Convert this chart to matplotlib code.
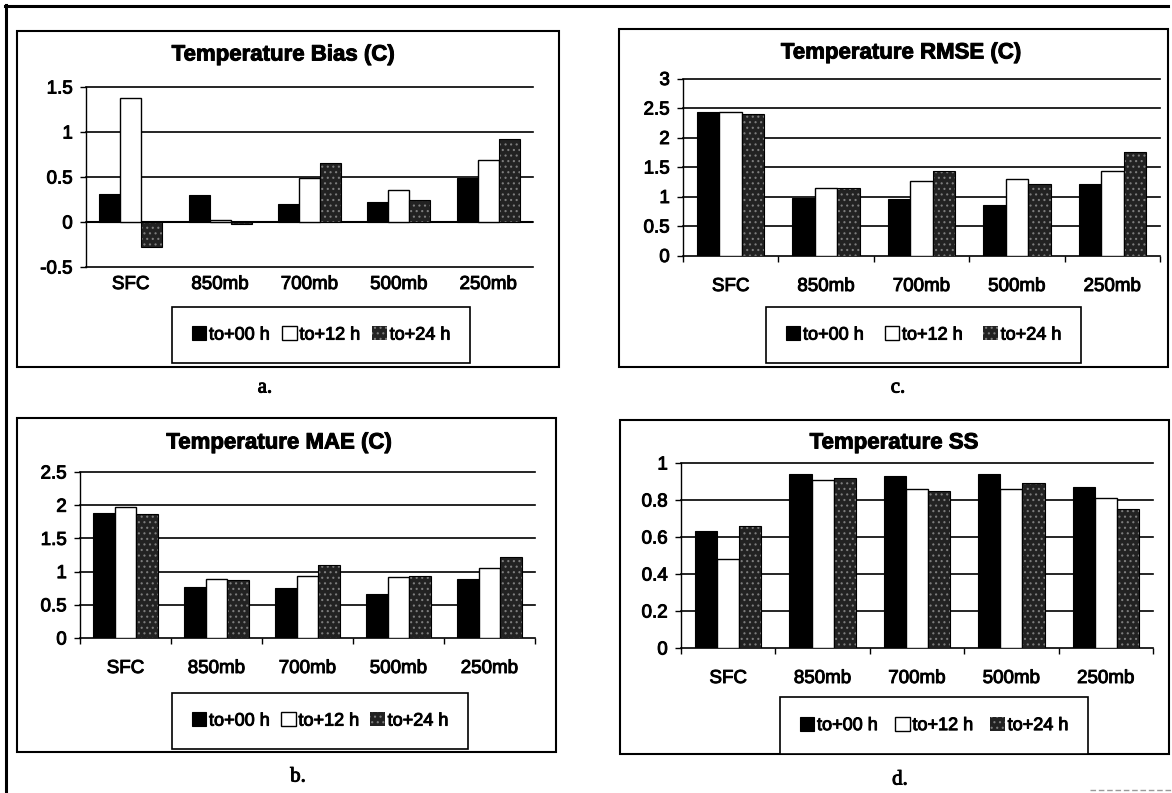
import numpy as np
import matplotlib
matplotlib.use('Agg')
import matplotlib.pyplot as plt
import matplotlib.patheffects as pe
from matplotlib.patches import Rectangle
from matplotlib.lines import Line2D

plt.rcParams['font.family'] = ['Liberation Sans', 'DejaVu Sans']
plt.rcParams['hatch.linewidth'] = 0.8

W, H = 1172, 793

# data
levels = ['SFC', '850mb', '700mb', '500mb', '250mb']
series_names = ['to+00 h', 'to+12 h', 'to+24 h']

bias_00 = [0.31, 0.30, 0.20, 0.22, 0.49]
bias_12 = [1.38, 0.02, 0.49, 0.36, 0.69]
bias_24 = [-0.28, -0.02, 0.66, 0.24, 0.92]

rmse_00 = [2.43, 0.97, 0.95, 0.86, 1.22]
rmse_12 = [2.44, 1.15, 1.27, 1.29, 1.43]
rmse_24 = [2.39, 1.14, 1.43, 1.22, 1.76]

mae_00 = [1.88, 0.77, 0.75, 0.67, 0.89]
mae_12 = [1.97, 0.89, 0.94, 0.92, 1.05]
mae_24 = [1.86, 0.87, 1.10, 0.93, 1.22]

ss_00 = [0.63, 0.94, 0.93, 0.94, 0.87]
ss_12 = [0.48, 0.91, 0.86, 0.86, 0.81]
ss_24 = [0.66, 0.92, 0.85, 0.89, 0.75]

bias_ticks = [-0.5, 0, 0.5, 1, 1.5]
rmse_ticks = [0, 0.5, 1, 1.5, 2, 2.5, 3]
mae_ticks = [0, 0.5, 1, 1.5, 2, 2.5]
ss_ticks = [0, 0.2, 0.4, 0.6, 0.8, 1]

# scanned text looks heavier than plain Arial
thick = [pe.withStroke(linewidth=0.7, foreground='black')]


def fx(x):
    return x / W


def fy(y):
    return 1 - y / H


def panel(fig, data, title, yticks, plot_px, box_px, leg_px, title_px,
          caption, cap_px, lab_y, xticks_out=True):
    x0, y0, x1, y1 = plot_px
    ax = fig.add_axes([fx(x0), fy(y1), (x1 - x0) / W, (y1 - y0) / H])
    x = np.arange(len(levels))
    w = 0.235
    b0 = ax.bar(x - w, data[0], w, color='black', edgecolor='black', lw=0.8, zorder=3)
    b1 = ax.bar(x, data[1], w, color='white', edgecolor='black', lw=1.0, zorder=3)
    b2 = ax.bar(x + w, data[2], w, color='#222222', edgecolor='#7d7d7d',
                hatch='...', lw=0, zorder=3)
    ax.bar(x + w, data[2], w, fill=False, edgecolor='black', lw=0.8, zorder=4)

    ax.set_xlim(-0.5, 4.5)
    ax.set_ylim(yticks[0], yticks[-1])
    ax.set_yticks(yticks)
    ax.set_yticklabels(['%g' % v for v in yticks])
    for v in yticks:
        ax.axhline(v, color='black', lw=1.2, zorder=1, clip_on=False)
    if yticks[0] < 0:
        ax.axhline(0, color='black', lw=1.5, zorder=2)

    for s in ['top', 'right', 'bottom']:
        ax.spines[s].set_visible(False)
    ax.spines['left'].set_linewidth(1.0)

    ax.set_xticks(x)
    ax.set_xticklabels(levels)
    pad = (lab_y - 7 - y1) / (100 / 72)
    ax.tick_params(axis='x', length=0, pad=pad, labelsize=13.5)
    if xticks_out:
        ax.set_xticks(np.arange(-0.5, 5.0, 1.0), minor=True)
        ax.tick_params(axis='x', which='minor', length=4, width=1, direction='out')
    ax.tick_params(axis='y', length=4.5, width=1, pad=5, labelsize=13.5)
    for t in ax.get_xticklabels() + ax.get_yticklabels():
        t.set_path_effects(thick)
    ax.patch.set_alpha(0)

    bx0, by0, bx1, by1 = box_px
    fig.add_artist(Rectangle((fx(bx0), fy(by1)), (bx1 - bx0) / W, (by1 - by0) / H,
                             transform=fig.transFigure, fill=False, lw=1.5,
                             edgecolor='black'))

    lx0, ly0, lx1, ly1 = leg_px
    leg = fig.legend([b0, b1, b2], series_names, ncol=3, loc='center',
                     bbox_to_anchor=(fx(lx0), fy(ly1), (lx1 - lx0) / W, (ly1 - ly0) / H),
                     bbox_transform=fig.transFigure, mode='expand',
                     fancybox=False, edgecolor='black', framealpha=1,
                     borderpad=1.1, handlelength=0.8, handleheight=0.8,
                     handletextpad=0.15, columnspacing=0.6, fontsize=13,
                     borderaxespad=0)
    leg.get_frame().set_linewidth(1.2)
    for t in leg.get_texts():
        t.set_path_effects(thick)

    fig.text(fx(title_px[0]), fy(title_px[1]), title, ha='center', va='center',
             fontsize=16, fontweight='bold', path_effects=thick)
    fig.text(fx(cap_px[0]), fy(cap_px[1]), caption, ha='center', va='center',
             fontsize=15, family=['Liberation Serif', 'DejaVu Serif'],
             path_effects=thick)
    return ax


fig = plt.figure(figsize=(W / 100, H / 100), dpi=100)

panel(fig, [bias_00, bias_12, bias_24], 'Temperature Bias (C)', bias_ticks,
      (86, 87, 533, 267), (17, 31, 559, 367), (172, 303, 470, 367),
      (283, 55), 'a.', (265, 388), 283, xticks_out=False)

panel(fig, [rmse_00, rmse_12, rmse_24], 'Temperature RMSE (C)', rmse_ticks,
      (683, 78.5, 1160, 255.5), (619, 29, 1168, 367), (766, 303, 1081, 367),
      (901, 53), 'c.', (898, 388), 285)

panel(fig, [mae_00, mae_12, mae_24], 'Temperature MAE (C)', mae_ticks,
      (80, 472, 535, 638), (17, 418, 556, 752), (172, 690, 468, 752),
      (279, 443), 'b.', (298, 777), 667)

panel(fig, [ss_00, ss_12, ss_24], 'Temperature SS', ss_ticks,
      (681, 463, 1153, 648), (620, 420, 1169, 754), (780, 697, 1088, 754),
      (894, 443), 'd.', (900, 780), 677)

# outer page frame
fig.add_artist(Line2D([fx(6), fx(6)], [fy(5), fy(793)], color='black', lw=2.2,
                      transform=fig.transFigure))
fig.add_artist(Line2D([fx(5), fx(1168)], [fy(6), fy(6)], color='black', lw=2.2,
                      transform=fig.transFigure))
fig.add_artist(Line2D([fx(1090), fx(1172)], [fy(790), fy(790)], color='#999999', lw=1,
                      ls=(0, (4, 2)), transform=fig.transFigure))

fig.savefig('out.png', dpi=100)
